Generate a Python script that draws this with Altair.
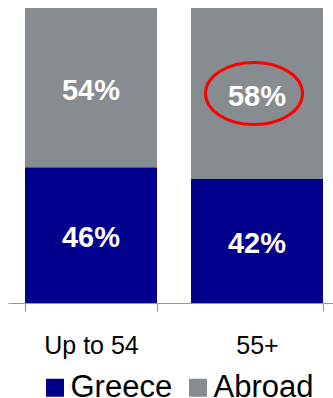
import altair as alt
import pandas as pd

categories = ["Up to 54", "55+"]
series = ["Greece", "Abroad"]
greece = [46, 42]
abroad = [54, 58]
colors = ["#00008C", "#878C91"]
highlight_category = "55+"
highlight_series = "Abroad"

FONT = "Liberation Sans"

rows = []
for c, g, a in zip(categories, greece, abroad):
    start = 0
    for s, v in zip(series, [g, a]):
        rows.append({"category": c, "series": s, "value": v,
                     "y0": start, "y1": start + v, "mid": start + v / 2,
                     "label": f"{v}%"})
        start += v
df = pd.DataFrame(rows)

# ellipse outline as a unit-box symbol path (rx = 1, ry = 0.64)
ELLIPSE = ("M -1 0 C -1 -0.353 -0.552 -0.64 0 -0.64 C 0.552 -0.64 1 -0.353 1 0 "
           "C 1 0.353 0.552 0.64 0 0.64 C -0.552 0.64 -1 0.353 -1 0 Z")

x_enc = alt.X("category:N", sort=categories,
              scale=alt.Scale(range=[0, 332], paddingInner=0.205, paddingOuter=0.1025),
              axis=alt.Axis(title=None, labelAngle=0, labelFont=FONT, labelFontSize=25,
                            labelColor="#000000", labelPadding=22, labelBaseline="top",
                            domainColor="#999999", domainWidth=1.2, tickColor="#999999",
                            tickWidth=1.2, tickSize=8, tickBand="extent", grid=False))
x_plain = alt.X("category:N", sort=categories)
y_scale = alt.Scale(domain=[0, 100], nice=False)

base = alt.Chart(df)

bars = base.mark_bar(size=132).encode(
    x=x_enc,
    y=alt.Y("y0:Q", scale=y_scale, axis=None),
    y2="y1:Q",
    color=alt.Color("series:N", scale=alt.Scale(domain=series, range=colors),
                    legend=alt.Legend(title=None, orient="none", direction="horizontal",
                                      legendX=31.5, legendY=364, symbolType="square",
                                      symbolSize=324, symbolStrokeWidth=0, symbolOpacity=1,
                                      labelFont=FONT, labelFontSize=31, labelColor="#000000",
                                      labelOffset=0, columnPadding=10, padding=0)),
)

labels = base.mark_text(font=FONT, fontSize=29, fontWeight="bold", color="white",
                        baseline="middle", dy=3).encode(
    x=x_plain,
    y=alt.Y("mid:Q", scale=y_scale, axis=None),
    text="label:N",
)

ellipse = base.transform_filter(
    (alt.datum.category == highlight_category) & (alt.datum.series == highlight_series)
).mark_point(
    shape=ELLIPSE, size=9409, filled=False, stroke="#FF0000", strokeWidth=3,
    opacity=1, xOffset=-3,
).encode(
    x=x_plain,
    y=alt.Y("mid:Q", scale=y_scale, axis=None),
)

chart = alt.layer(bars, labels, ellipse).properties(
    width=325, height=295,
    padding={"left": 8, "top": 8, "right": 0, "bottom": 95},
    autosize=alt.AutoSizeParams(type="none"),
    background="white",
).configure_view(stroke=None)

chart.save("out.html", embed_options={"renderer": "svg", "actions": False})
